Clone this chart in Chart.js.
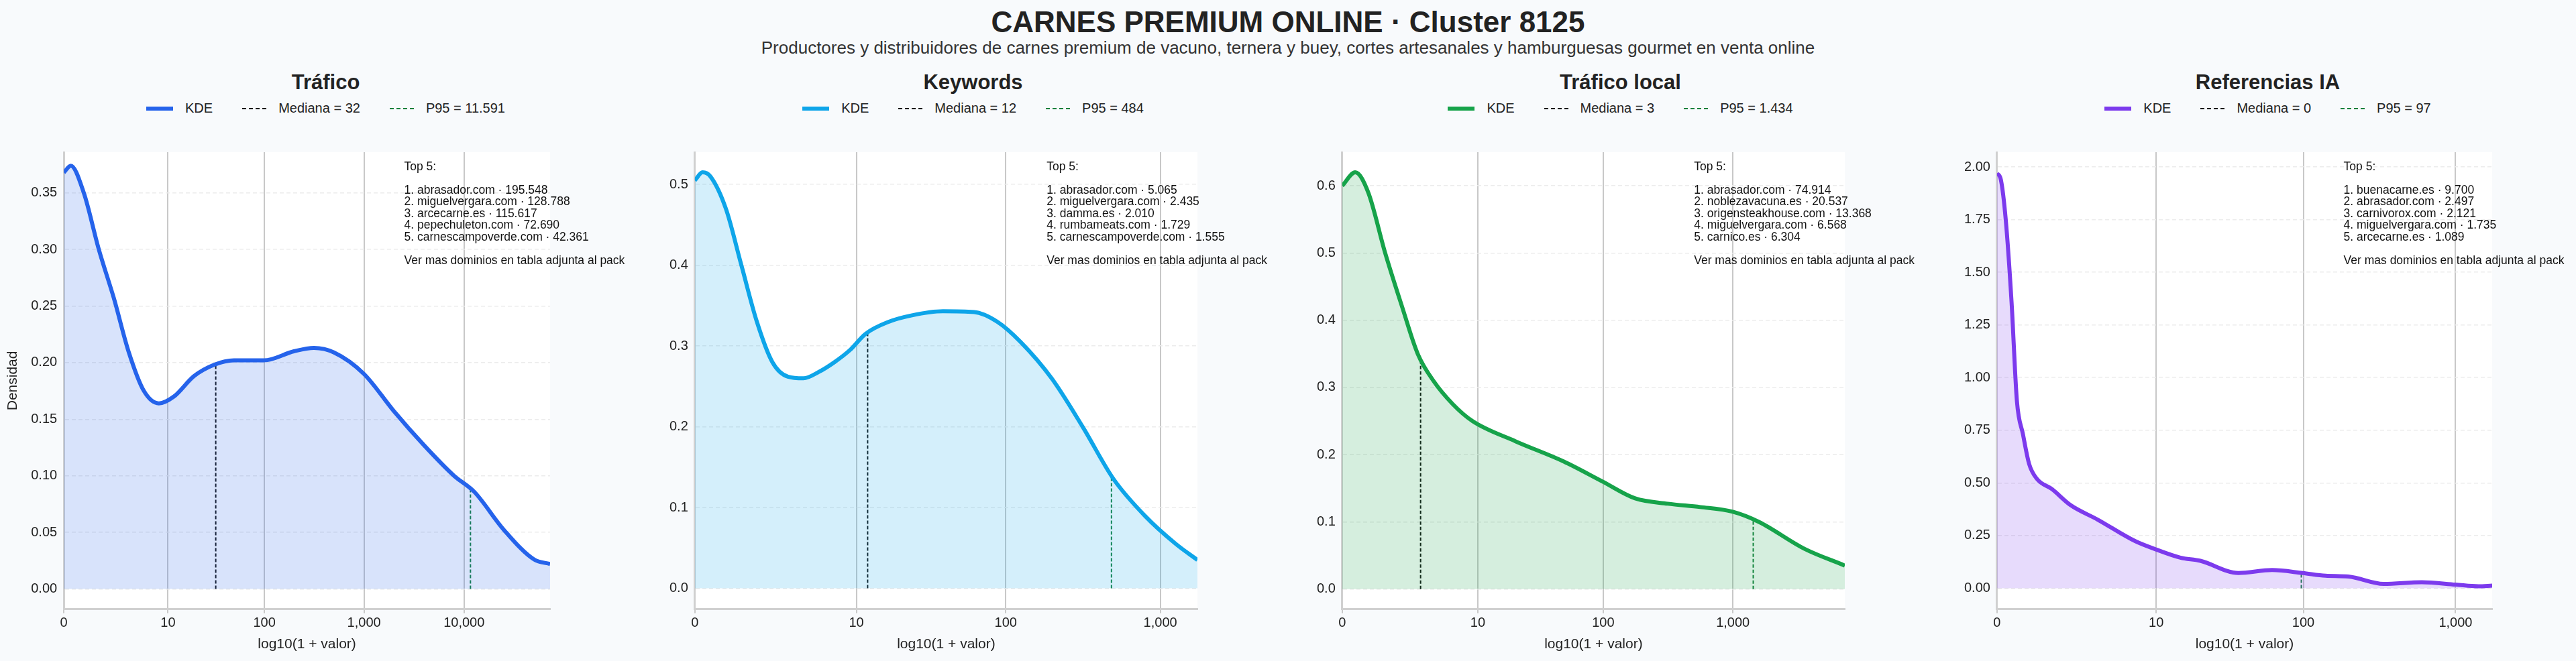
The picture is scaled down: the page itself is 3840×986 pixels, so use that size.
<!DOCTYPE html>
<html lang="es">
<head>
<meta charset="UTF-8">
<title>Carnes premium online</title>
<script src="https://cdn.jsdelivr.net/npm/chart.js@4.4.0/dist/chart.umd.min.js"></script>
<style>
  body { margin: 0; width: 3840px; height: 986px; background: #f8fafc; font-family: "Liberation Sans", Arial, sans-serif; overflow: hidden; position: relative; }
  #title { position: absolute; top: 8px; width: 100%; text-align: center; font-size: 44px; font-weight: bold; color: #222; }
  #subtitle { position: absolute; top: 56px; width: 100%; text-align: center; font-size: 26px; color: #333; }
  .panel { position: absolute; top: 0; width: 965px; height: 986px; }
  .ptitle { position: absolute; top: 105px; width: 100%; text-align: center; font-size: 31px; font-weight: bold; color: #222; }
  .legend { position: absolute; top: 150px; width: 100%; display: flex; justify-content: center; font-size: 20px; color: #222; align-items: center; }
  .legend span.item { display: flex; align-items: center; margin: 0 22px; }
  .legend i { display: inline-block; width: 40px; margin-right: 18px; }
  .panel canvas { position: absolute; left: 0; top: 205px; }
</style>
</head>
<body>
<div id="title">CARNES PREMIUM ONLINE · Cluster 8125</div>
<div id="subtitle">Productores y distribuidores de carnes premium de vacuno, ternera y buey, cortes artesanales y hamburguesas gourmet en venta online</div>
<div id="panels"></div>
<script>
// x values are log10(1 + valor)
const titles = ['Tráfico', 'Keywords', 'Tráfico local', 'Referencias IA'];
const colors = ['#2563eb', '#0ea5e9', '#16a34a', '#7c3aed'];
const fills = ['rgba(37,99,235,0.18)', 'rgba(14,165,233,0.18)', 'rgba(22,163,74,0.18)', 'rgba(124,58,237,0.18)'];
const medians = [32, 12, 3, 0];
const p95s = [11591, 484, 1434, 97];
const xMax = [4.86, 3.24, 3.86, 3.24];
const yMin = [-0.018, -0.026, -0.03, -0.1];
const yMax = [0.386, 0.54, 0.65, 2.07];
const yStep = [0.05, 0.1, 0.1, 0.25];
const tickValues = [[0, 10, 100, 1000, 10000], [0, 10, 100, 1000], [0, 10, 100, 1000], [0, 10, 100, 1000]];

const kdeTrafico = [[0,0.368],[0.07,0.374],[0.2,0.35],[0.35,0.30],[0.5,0.257],[0.65,0.209],[0.8,0.175],[0.95,0.164],[1.1,0.170],[1.3,0.188],[1.5,0.198],[1.7,0.202],[2.0,0.202],[2.3,0.21],[2.5,0.213],[2.7,0.209],[3.0,0.19],[3.3,0.157],[3.6,0.127],[3.9,0.10],[4.1,0.086],[4.4,0.052],[4.7,0.026],[4.86,0.022]];
const kdeKeywords = [[0,0.505],[0.05,0.515],[0.1,0.51],[0.2,0.47],[0.3,0.40],[0.4,0.33],[0.5,0.28],[0.6,0.262],[0.7,0.26],[0.8,0.268],[0.9,0.28],[1.0,0.295],[1.1,0.315],[1.25,0.33],[1.4,0.338],[1.6,0.343],[1.8,0.342],[1.95,0.33],[2.1,0.305],[2.3,0.26],[2.5,0.2],[2.7,0.135],[2.9,0.09],[3.1,0.055],[3.24,0.035]];
const kdeLocal = [[0,0.6],[0.1,0.62],[0.2,0.59],[0.33,0.5],[0.46,0.42],[0.58,0.35],[0.7,0.31],[0.85,0.275],[1.0,0.25],[1.33,0.22],[1.7,0.19],[2.0,0.16],[2.25,0.135],[2.5,0.127],[2.75,0.122],[3.0,0.115],[3.2,0.1],[3.55,0.06],[3.86,0.035]];
const kdeIA = [[0,1.97],[0.025,1.94],[0.057,1.75],[0.095,1.36],[0.13,0.89],[0.17,0.73],[0.21,0.59],[0.26,0.52],[0.36,0.47],[0.48,0.395],[0.66,0.325],[0.905,0.223],[1.04,0.184],[1.2,0.145],[1.33,0.13],[1.58,0.072],[1.8,0.086],[2.0,0.072],[2.15,0.059],[2.3,0.055],[2.53,0.02],[2.78,0.028],[3.0,0.017],[3.15,0.009],[3.24,0.012]];
const kdes = [kdeTrafico, kdeKeywords, kdeLocal, kdeIA];

const top5 = [
  ['abrasador.com · 195.548', 'miguelvergara.com · 128.788', 'arcecarne.es · 115.617', 'pepechuleton.com · 72.690', 'carnescampoverde.com · 42.361'],
  ['abrasador.com · 5.065', 'miguelvergara.com · 2.435', 'damma.es · 2.010', 'rumbameats.com · 1.729', 'carnescampoverde.com · 1.555'],
  ['abrasador.com · 74.914', 'noblezavacuna.es · 20.537', 'origensteakhouse.com · 13.368', 'miguelvergara.com · 6.568', 'carnico.es · 6.304'],
  ['buenacarne.es · 9.700', 'abrasador.com · 2.497', 'carnivorox.com · 2.121', 'miguelvergara.com · 1.735', 'arcecarne.es · 1.089']
];

const fmt = n => n.toLocaleString('en-US');
const fmtEs = n => n.toLocaleString('de-DE');

function interp(pts, x) {
  for (let i = 1; i < pts.length; i++) {
    if (x <= pts[i][0]) {
      const [x0, y0] = pts[i - 1], [x1, y1] = pts[i];
      return y0 + (y1 - y0) * (x - x0) / (x1 - x0);
    }
  }
  return pts[pts.length - 1][1];
}

const bgPlugin = {
  id: 'bg',
  beforeDraw(chart) {
    const a = chart.chartArea, ctx = chart.ctx;
    ctx.save(); ctx.fillStyle = '#ffffff';
    ctx.fillRect(a.left, a.top, a.right - a.left, a.bottom - a.top);
    ctx.restore();
  }
};
const notePlugin = {
  id: 'note',
  afterDraw(chart, args, opts) {
    const a = chart.chartArea, ctx = chart.ctx;
    const x = a.left + 0.7 * (a.right - a.left);
    let y = a.top + 22;
    ctx.save(); ctx.fillStyle = '#111'; ctx.font = '17.5px "Liberation Sans", Arial'; ctx.textBaseline = 'middle';
    const lines = ['Top 5:', ''].concat(opts.list.map((s, i) => (i + 1) + '. ' + s)).concat(['', 'Ver mas dominios en tabla adjunta al pack']);
    lines.forEach(l => { ctx.fillText(l, x, y); y += 17.5; });
    ctx.restore();
  }
};

const panelsDiv = document.getElementById('panels');
titles.forEach((t, i) => {
  const p = document.createElement('div');
  p.className = 'panel';
  p.style.left = (i * 965 + 3) + 'px';
  p.innerHTML = `<div class="ptitle">${t}</div>
    <div class="legend">
      <span class="item"><i style="border-top:6px solid ${colors[i]}"></i>KDE</span>
      <span class="item"><i style="width:36px;border-top:2px dashed #111"></i>Mediana = ${fmtEs(medians[i])}</span>
      <span class="item"><i style="width:36px;border-top:2px dashed #15803d"></i>P95 = ${fmtEs(p95s[i])}</span>
    </div>
    <canvas id="c${i}" width="965" height="781"></canvas>`;
  panelsDiv.appendChild(p);

  const pts = kdes[i];
  const mx = Math.log10(1 + medians[i]);
  const px = Math.log10(1 + p95s[i]);
  const tickPos = tickValues[i].map(v => Math.log10(1 + v));

  new Chart(document.getElementById('c' + i), {
    type: 'line',
    data: {
      datasets: [
        { data: pts.map(d => ({ x: d[0], y: d[1] })), borderColor: colors[i], backgroundColor: fills[i], borderWidth: 6, fill: 'origin', pointRadius: 0, tension: 0.4, cubicInterpolationMode: 'monotone' },
        { data: [{ x: mx, y: 0 }, { x: mx, y: interp(pts, mx) }], borderColor: '#111', borderWidth: 2, borderDash: [5, 3], pointRadius: 0, fill: false, hidden: medians[i] === 0 },
        { data: [{ x: px, y: 0 }, { x: px, y: interp(pts, px) }], borderColor: '#15803d', borderWidth: 2, borderDash: [5, 3], pointRadius: 0, fill: false }
      ]
    },
    options: {
      responsive: false, animation: false,
      layout: { padding: { left: i === 0 ? 0 : 20, right: 148, top: 16, bottom: 8 } },
      plugins: { legend: { display: false }, tooltip: { enabled: false }, note: { list: top5[i] } },
      scales: {
        x: {
          type: 'linear', min: 0, max: xMax[i],
          afterBuildTicks: ax => { ax.ticks = tickPos.map(v => ({ value: v })); },
          ticks: { color: '#222', font: { size: 20 }, callback: (v, idx) => fmt(tickValues[i][idx]) },
          grid: { color: '#c8c8c8', lineWidth: 2, drawTicks: true, tickLength: 6 },
          border: { color: '#d0d0d0', width: 3 },
          title: { display: true, text: 'log10(1 + valor)', color: '#222', font: { size: 21 } }
        },
        y: {
          min: yMin[i], max: yMax[i],
          afterBuildTicks: ax => {
            const tk = []; for (let v = 0; v <= yMax[i] + 1e-9; v += yStep[i]) tk.push({ value: +v.toFixed(3) });
            ax.ticks = tk;
          },
          ticks: { color: '#222', font: { size: 20 }, padding: 10, callback: v => (i === 0 || i === 3) ? v.toFixed(2) : v.toFixed(1) },
          grid: { color: '#ececec', lineWidth: 1.5, drawTicks: false },
          border: { color: '#d0d0d0', width: 3, dash: [6, 4] },
          title: { display: i === 0, text: 'Densidad', color: '#222', font: { size: 21 } }
        }
      }
    },
    plugins: [bgPlugin, notePlugin]
  });
});
</script>
</body>
</html>
